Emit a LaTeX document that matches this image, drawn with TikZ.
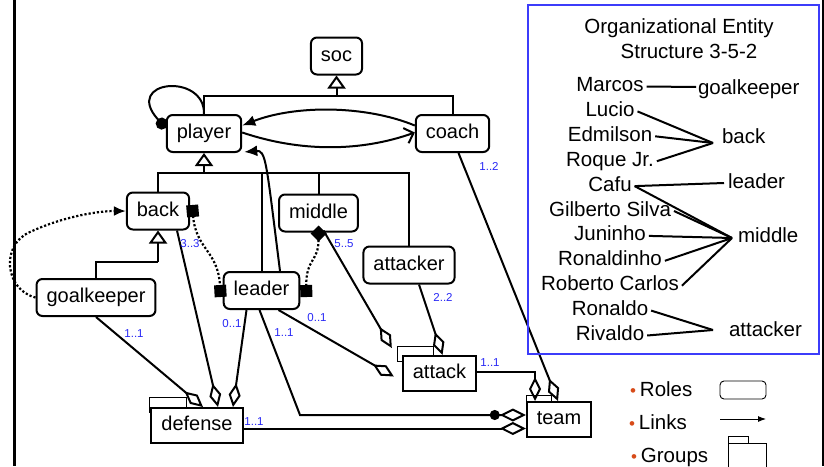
\documentclass[tikz,border=0pt]{standalone}
\usepackage{fontspec}
\setmainfont{Liberation Sans}
\usetikzlibrary{arrows.meta,positioning,backgrounds,calc}
\definecolor{cardblue}{RGB}{40,40,245}
\definecolor{panelblue}{RGB}{60,60,250}
\definecolor{dotred}{RGB}{215,75,25}
\tikzset{role/.style={draw, rounded corners=6pt, fill=white, minimum height=37pt, inner xsep=10pt, text height=14pt, text depth=4pt, font=\fontsize{20}{24}\selectfont},
  group/.style={draw, fill=white, minimum height=35pt, inner xsep=10pt, text height=14pt, text depth=4pt, font=\fontsize{20}{24}\selectfont},
  card/.style={text=cardblue, inner sep=0pt, font=\fontsize{11.5}{13}\selectfont},
  who/.style={inner sep=0pt, anchor=base, font=\fontsize{20.5}{24}\selectfont},
  gen/.style={-{Triangle[open,length=13pt,width=18pt]}},
  part/.style={-{Diamond[open,length=24pt,width=12pt]}},
  dotlink/.style={dotted, line width=2.2pt},
  key/.style={line width=0.9pt}}
\newcommand\bulletmark{{\color{dotred}\fontsize{17}{17}\selectfont•}\hspace{4pt}}

\begin{document}
\begin{tikzpicture}[x=1pt, y=-1pt, line width=2pt]
    \useasboundingbox (0,0) rectangle (824,466);
    \draw[line width=2.7pt] (14.5,0) -- (14.5,466);
    \draw[line width=2.5pt] (823,0) -- (823,466);

    % roles and groups
    \node[role] (soc) at (336.5,56) {soc};
    \node[role] (player) at (204,133.5) {player};
    \node[role] (coach) at (452.5,133.5) {coach};
    \node[role] (back) at (158,211) {back};
    \node[role] (middle) at (318.5,213) {middle};
    \node[role] (attacker) at (409,265) {attacker};
    \node[role] (goalkeeper) at (96,297.5) {goalkeeper};
    \node[role] (leader) at (261.5,290.5) {leader};
    \node[group] (attack) at (439.5,373.5) {attack};
    \node[group] (defense) at (197,425.5) {defense};
    \node[group] (team) at (559,419.5) {team};
    \begin{scope}[on background layer]
        \foreach \g/\dx/\dy/\w in {defense/-1/10/37, attack/-5/9/36, team/0/6/25}
            \draw ([xshift=\dx pt,yshift=\dy pt]\g.north west) rectangle ++(\w,15);
    \end{scope}

    % inheritance
    \coordinate (socjoin) at (336.5,96);
    \draw[gen] (socjoin) -- (soc.south);
    \draw (player.north) |- (socjoin) -| (coach.north);
    \coordinate (playerjoin) at (204,173);
    \draw[gen] (playerjoin) -- (player.south);
    \draw (back.north) |- (playerjoin) -| (attacker.north);
    \draw (middle.north) -- (middle.north |- playerjoin);
    \draw (leader.north) -- (leader.north |- playerjoin);
    \coordinate (backjoin) at (158,262);
    \draw[gen] (backjoin) -- (back.south);
    \draw (goalkeeper.north) |- (backjoin);

    % links
    \draw[-{Circle[length=12pt]}] (player.north) .. controls (205,72) and (122,80) .. ([yshift=-14pt]player.north west);
    \draw[-{Latex[length=13pt,width=11pt]}] ([yshift=8pt]coach.west) .. controls (365,105) and (295,105) .. ([yshift=8pt]player.east);
    \draw[-{Straight Barb[length=8pt,width=16pt]}] ([yshift=1pt]player.east) .. controls (300,152) and (360,152) .. ([yshift=1pt]coach.west);
    \draw[-{Latex[length=13pt,width=11pt]}] ([xshift=18.5pt]leader.north) .. controls (266,160) and (266,150) .. ([xshift=2pt,yshift=1pt]player.south east);
    \draw[dotlink, -{Latex[length=12pt,width=10pt]}] (goalkeeper.west) .. controls (5,290) and (0,245) .. (30,232) .. controls (60,218) and (95,211) .. (back.west);
    \draw[dotlink, {Square[length=12pt,width=12pt]}-{Square[length=12pt,width=12pt]}] ([xshift=2pt,yshift=6pt]back.east) .. controls (196,250) and (218,250) .. ([xshift=-2pt,yshift=-6.5pt]leader.west);
    \draw[dotlink, {Diamond[length=16pt,width=16pt]}-{Square[length=12pt,width=12pt]}] ([yshift=7pt]middle.south) .. controls (318.5,262) and (306,258) .. ([xshift=6pt,yshift=-6.5pt]leader.east);

    % compositions
    \draw[part] (goalkeeper.south) -- ([xshift=6pt]defense.north);
    \draw[part] ([xshift=19pt]back.south) -- ([xshift=21pt]defense.north);
    \draw[part] ([xshift=-15pt]leader.south) -- ([xshift=36pt]defense.north);
    \draw[part] ([xshift=17pt]leader.south) -- ([xshift=-8pt,yshift=-3pt]attack.west);
    \draw[part] ([xshift=5pt,yshift=2pt]middle.south) -- ([xshift=-10pt,yshift=7pt]attack.north west);
    \draw[part] ([xshift=10pt]attacker.south) -- ([xshift=3pt]attack.north);
    \draw[part] ([yshift=2pt]attack.east) -| ([xshift=-24pt]team.north);
    \draw[part] ([xshift=6pt]coach.south) -- ([xshift=-1pt]team.north);
    \coordinate (leaderbend) at (300,415);
    \draw[-{Circle[length=10pt] Diamond[open,length=26pt,width=13pt]}] ([xshift=-2pt]leader.south) -- (leaderbend) -- (leaderbend -| team.west);
    \coordinate (defenseout) at ([yshift=-3pt]defense.east);
    \draw[-{Diamond[open,length=26pt,width=13pt]}] (defenseout) -- (defenseout -| team.west);

    \node[card] (c-coach) at (489,166) {1..2};
    \node[card] (c-back) at (190,244) {3..3};
    \node[card] (c-middle) at (344,244) {5..5};
    \node[card] (c-attacker) at (443,297) {2..2};
    \node[card] (c-goalkeeper) at (134,334) {1..1};
    \node[card] (c-leaderdef) at (232,324) {0..1};
    \node[card] (c-leaderteam) at (284,333) {1..1};
    \node[card] (c-leaderatt) at (317,318) {0..1};
    \node[card] (c-attack) at (490,363) {1..1};
    \node[card] (c-defense) at (254,422) {1..1};

    % entity panel
    \draw[panelblue, line width=2.7pt] (528,5) rectangle (819,354);
    \node[who] (title1) at (679,33.5) {Organizational Entity};
    \node[who] (title2) at (689,58) {Structure 3-5-2};
    \foreach \name [count=\i] in {Marcos, Lucio, Edmilson, Roque Jr., Cafu, Gilberto Silva, Juninho, Ronaldinho, Roberto Carlos, Ronaldo, Rivaldo}
        \node[who] (P\i) at (610,66.6+24.9*\i) {\name};
    \foreach \role/\x/\y [count=\j] in {goalkeeper/697/94, back/721/143, leader/727/188, middle/737/242, attacker/728/336}
        \node[who, anchor=base west] (R\j) at (\x,\y) {\role};
    \coordinate (gkhub) at (696,87);
    \coordinate (backhub) at (713,143);
    \coordinate (leaderhub) at (724,183);
    \coordinate (middlehub) at (732,238);
    \coordinate (attackerhub) at (713,330);
    \foreach \i/\hub in {1/gkhub, 2/backhub, 3/backhub, 4/backhub, 5/leaderhub, 5/middlehub, 6/middlehub, 7/middlehub, 8/middlehub, 9/middlehub, 10/attackerhub, 11/attackerhub}
        \draw ([xshift=2pt,yshift=5pt]P\i.base east) -- (\hub);

    % legend
    \node[who, anchor=base west] (roles) at (629,396) {\bulletmark Roles};
    \node[who, anchor=base west] (links) at (628,429) {\bulletmark Links};
    \node[who, anchor=base west] (groups) at (630,462) {\bulletmark Groups};
    \draw[key, rounded corners=4pt] (720,381) rectangle (766,399);
    \draw[key, -{Latex[length=8pt,width=6pt]}] (720,419) -- (766,419);
    \draw[key] (728,436) rectangle (748,443);
    \draw[key] (728,443) rectangle (766,472);
\end{tikzpicture}
\end{document}
